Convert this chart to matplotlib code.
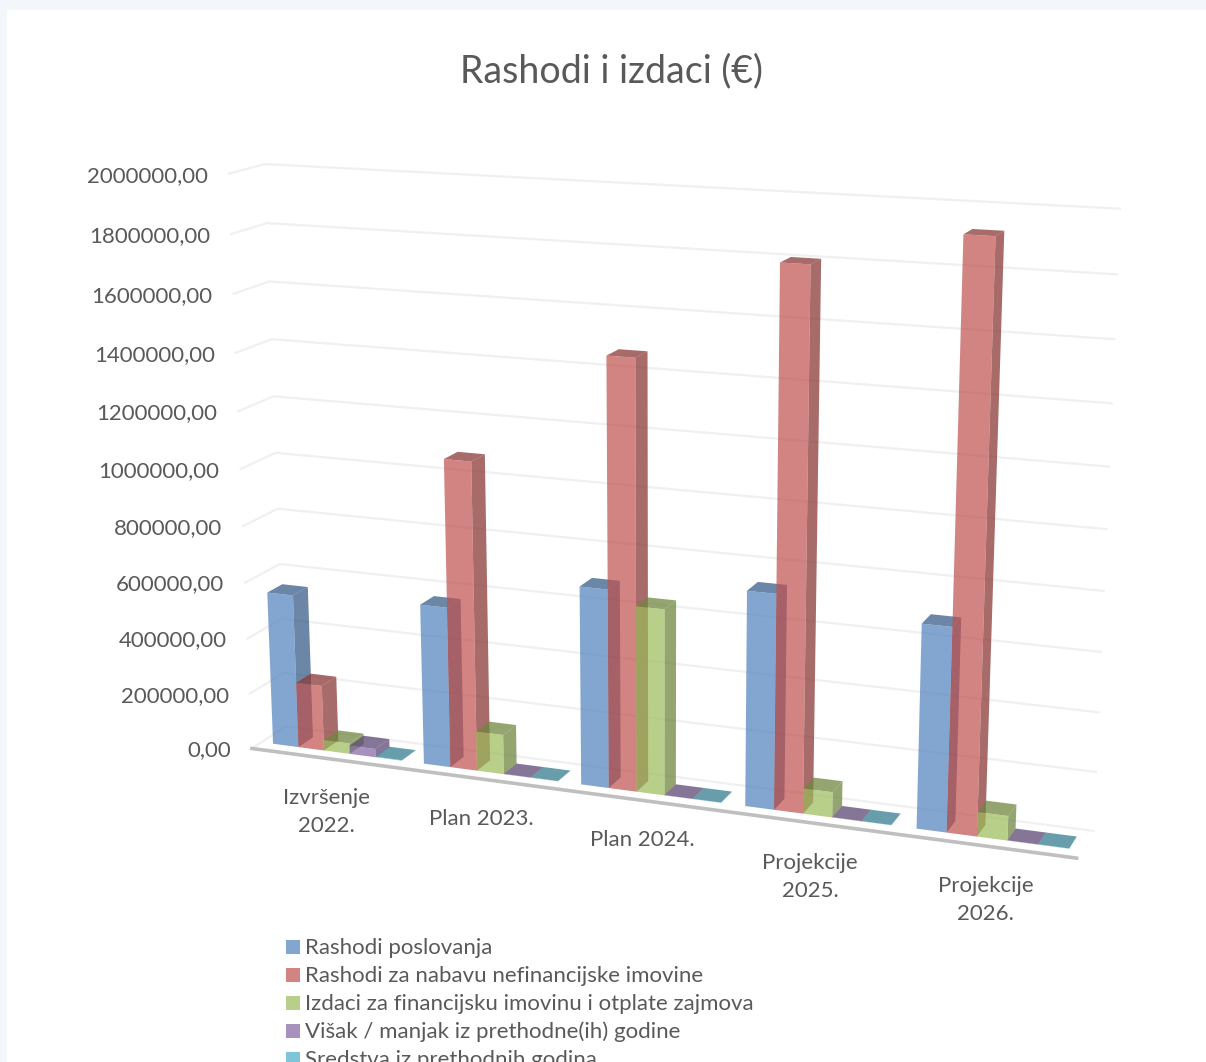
import numpy as np
import matplotlib
matplotlib.use("Agg")
import matplotlib.pyplot as plt
from matplotlib.patches import Polygon, Rectangle

plt.rcParams['font.family'] = ['Lato', 'DejaVu Sans']

# chart data
categories = ['Izvršenje\n2022.', 'Plan 2023.', 'Plan 2024.', 'Projekcije\n2025.', 'Projekcije\n2026.']
rashodi_poslovanja = [550000, 567000, 690000, 735000, 687000]
rashodi_nabava = [235000, 1080000, 1470000, 1805000, 1925000]
izdaci_financijski = [38000, 140000, 643000, 87000, 83000]
visak_manjak = [30000, 1000, 1000, 1000, 1000]
sredstva = [2000, 1000, 1000, 1000, 1000]
series_names = ['Rashodi poslovanja', 'Rashodi za nabavu nefinancijske imovine',
                'Izdaci za financijsku imovinu i otplate zajmova',
                'Višak / manjak iz prethodne(ih) godine', 'Sredstva iz prethodnih godina']
y_ticks = [0, 200000, 400000, 600000, 800000, 1000000, 1200000, 1400000, 1600000, 1800000, 2000000]

series = [rashodi_poslovanja, rashodi_nabava, izdaci_financijski, visak_manjak, sredstva]
colors = ['#4F81BD', '#C0504D', '#9BBB59', '#8064A2', '#4BACC6']

n_cat = len(categories)
y_max = 2000000

# camera: fit a projection matrix on the corners of the 3d box as seen in the picture
# (category, value, depth) -> pixel
anchors = [(0, 2000000, 0, 228, 174), (0, 1800000, 0, 231, 234), (0, 1600000, 0, 233, 294),
           (0, 0, 0, 253, 748), (0, 2000000, 1, 265, 164), (0, 1800000, 1, 268, 223),
           (0, 1600000, 1, 270, 281), (0, 600000, 1, 279, 564), (0, 0, 1, 285, 727),
           (5, 0, 0, 1077, 858), (5, 2000000, 1, 1120, 209), (5, 1800000, 1, 1117, 274),
           (5, 600000, 1, 1101, 652), (5, 200000, 1, 1096, 772), (5, 0, 1, 1093, 831)]
rows = []
for u, v, d, px, py in anchors:
    p = [u / n_cat, v / y_max, d, 1]
    rows.append(p + [0, 0, 0, 0] + [-px / 1000 * c for c in p])
    rows.append([0, 0, 0, 0] + p + [-py / 1000 * c for c in p])
P = np.linalg.svd(np.array(rows))[2][-1].reshape(3, 4)


def project(u, v, d):
    h = P @ np.array([u / n_cat, v / y_max, d, 1])
    return h[0] / h[2] * 1000, h[1] / h[2] * 1000


fig = plt.figure(figsize=(12.06, 10.62), dpi=100, facecolor='#F3F7FC')
ax = fig.add_axes([0, 0, 1, 1])
ax.set_xlim(0, 1206)
ax.set_ylim(1062, 0)
ax.axis('off')
ax.add_patch(Rectangle((7, 10), 1199, 1052, color='white', lw=0, zorder=0))

ax.text(612, 71, 'Rashodi i izdaci (€)', ha='center', va='center', fontsize=27, color='#595959')

# gridlines on the walls and value labels
for t in y_ticks:
    front = project(0, t, 0)
    back = project(0, t, 1)
    right = project(n_cat, t, 1)
    ax.plot([front[0], back[0], right[0]], [front[1], back[1], right[1]],
            color='#F0F0F0', lw=1.6, zorder=1, solid_joinstyle='miter')
    ax.text(front[0] - 21, front[1] + 2, f'{t},00', ha='right', va='center', fontsize=16, color='#595959')

# floor edge
f0 = project(0, 0, 0)
f1 = project(n_cat, 0, 0)
ax.plot([f0[0], f1[0]], [f0[1], f1[1]], color='#BFBFBF', lw=2.6, zorder=1)

for i, name in enumerate(categories):
    x, y = project(i + 0.5, 0, 0)
    ax.text(x, y + 30, name, ha='center', va='top', fontsize=16, color='#595959', linespacing=1.5)

# bars, left to right so the later ones lie on top
margin = 0.078
bar_w = 0.171
d0, d1 = 0.28, 0.72
z = 2
for i in range(n_cat):
    for j, vals in enumerate(series):
        u0 = i + margin + j * bar_w
        u1 = u0 + bar_w
        v = vals[i]
        base = np.array(matplotlib.colors.to_rgb(colors[j]))
        dark = base * 0.72
        top = [project(u0, v, d0), project(u1, v, d0), project(u1, v, d1), project(u0, v, d1)]
        side = [project(u1, 0, d0), project(u1, v, d0), project(u1, v, d1), project(u1, 0, d1)]
        front = [project(u0, 0, d0), project(u1, 0, d0), project(u1, v, d0), project(u0, v, d0)]
        ax.add_patch(Polygon(side, facecolor=dark, alpha=0.75, lw=0, zorder=z))
        ax.add_patch(Polygon(top, facecolor=dark, alpha=0.75, lw=0, zorder=z))
        ax.add_patch(Polygon(front, facecolor=base, alpha=0.7, lw=0, zorder=z))
        z += 1

# legend, the last entry is cut by the picture edge in the original too
for j, name in enumerate(series_names):
    y = 947 + j * 28
    ax.add_patch(Rectangle((286, y - 7), 14, 14, facecolor=colors[j], alpha=0.7, lw=0, zorder=2))
    ax.text(305, y + 1, name, ha='left', va='center', fontsize=16, color='#595959')

fig.savefig('out.png', dpi=100)
